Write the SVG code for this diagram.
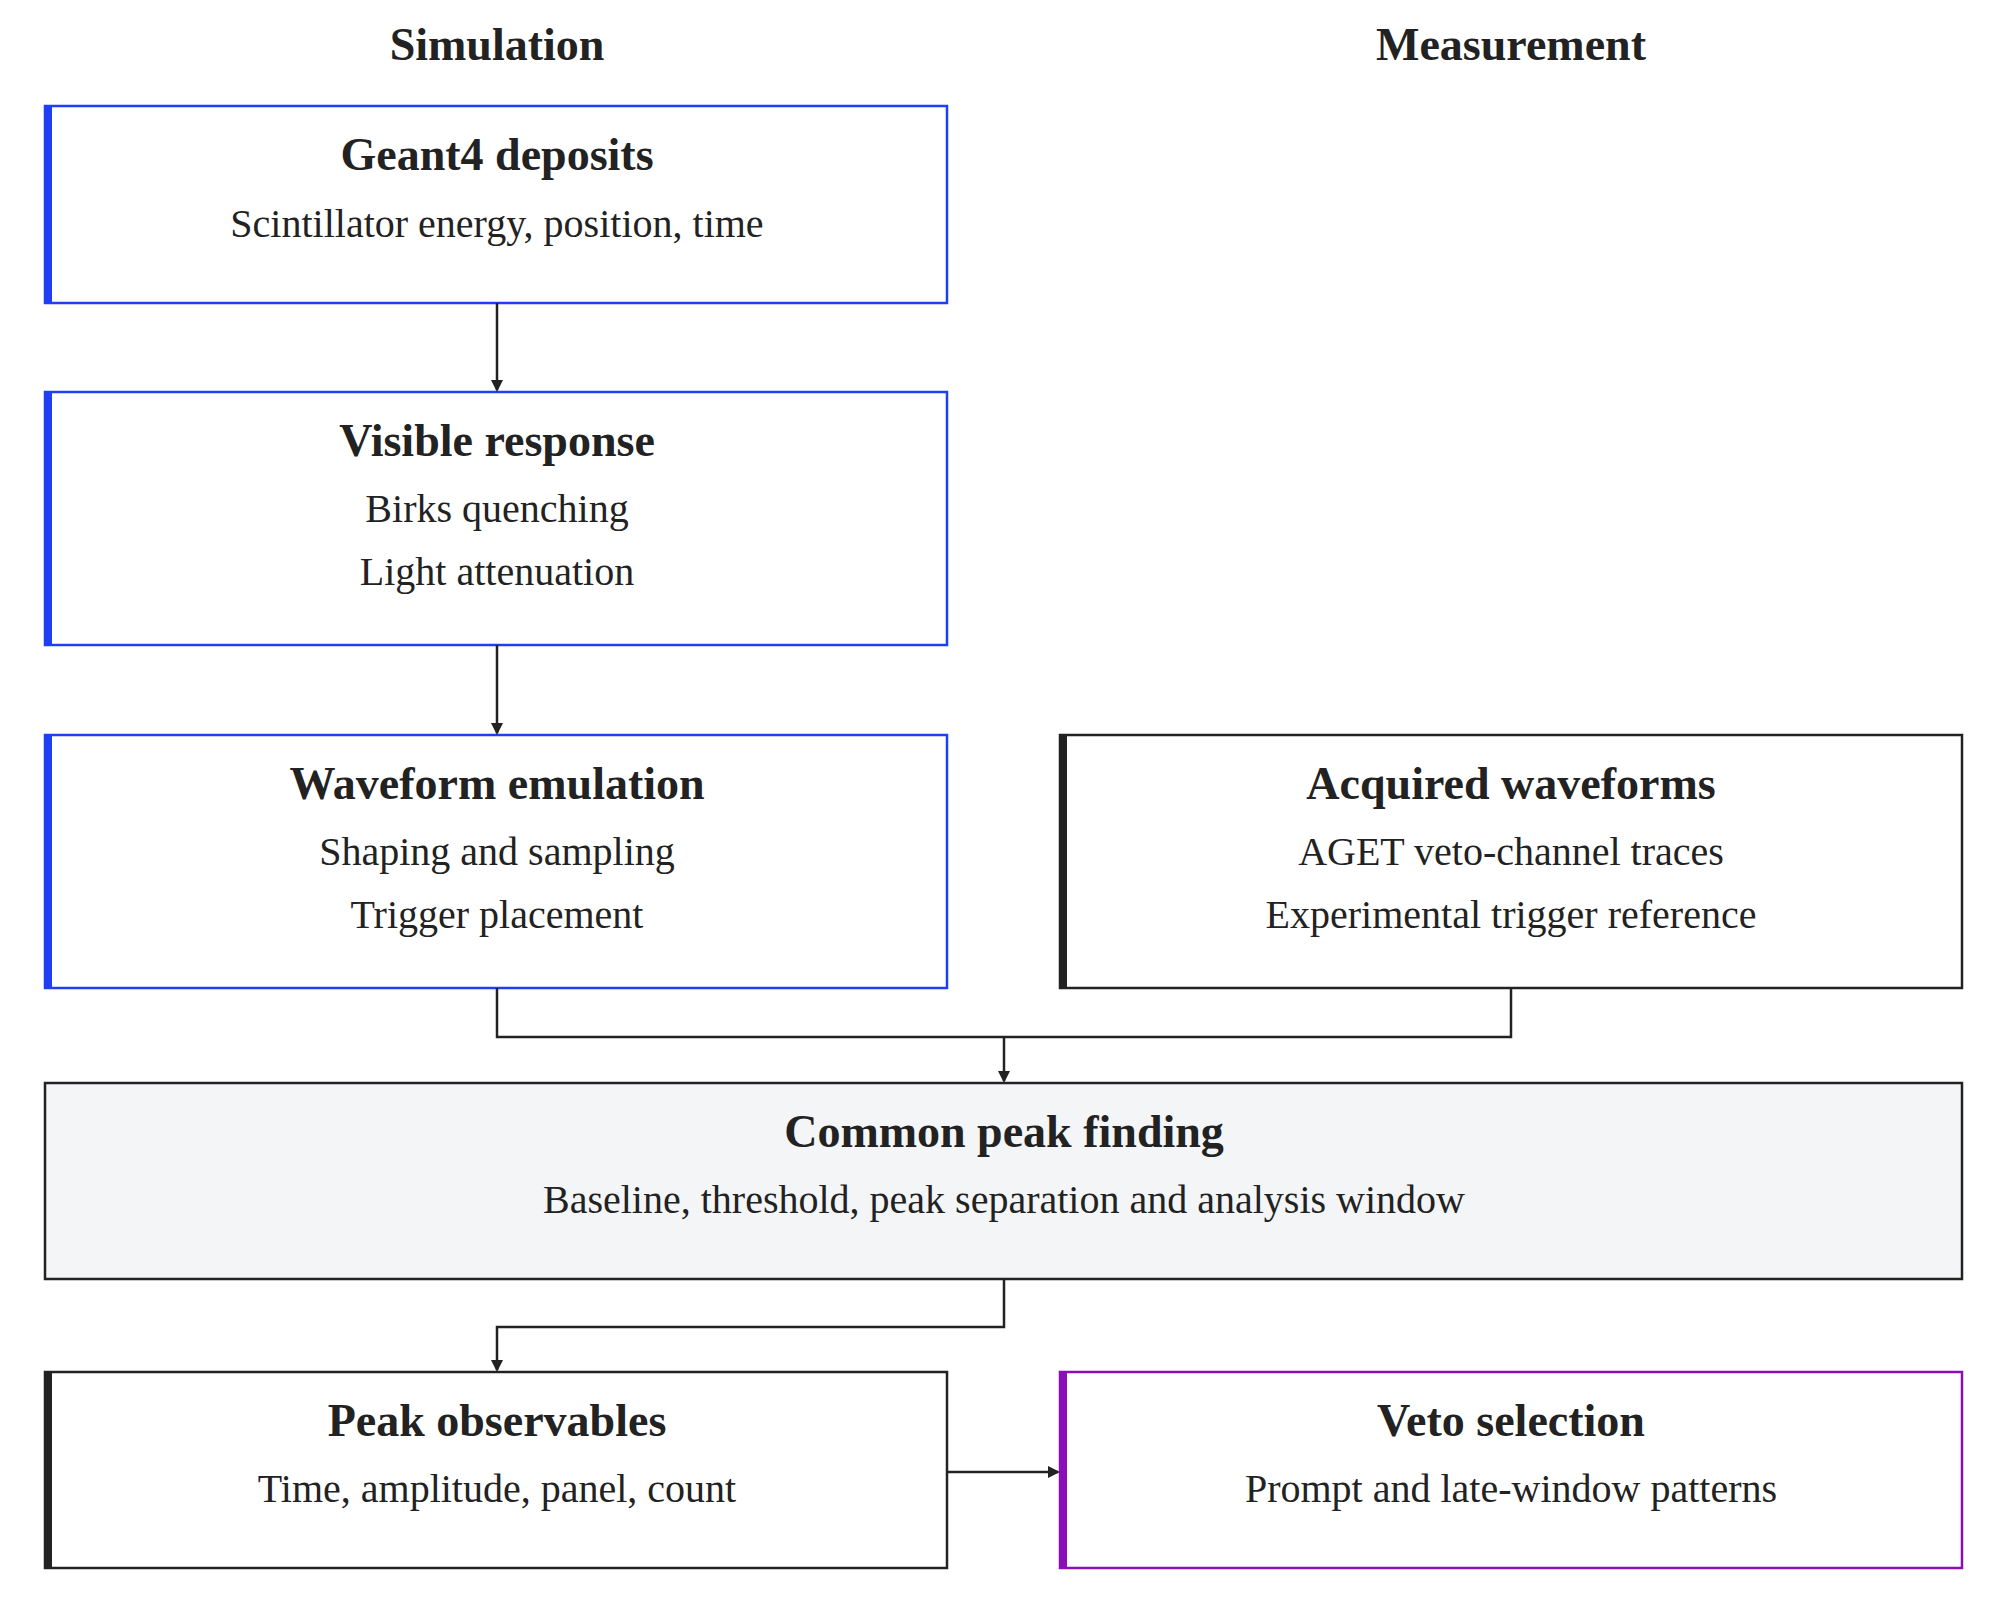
<svg xmlns="http://www.w3.org/2000/svg" width="2000" height="1609" viewBox="0 0 2000 1609">
<style>
.t{font-family:"Liberation Serif",serif;font-weight:bold;font-size:46px;fill:#222;text-anchor:middle}
.s{font-family:"Liberation Serif",serif;font-size:40px;fill:#222;text-anchor:middle}
.h{font-family:"Liberation Serif",serif;font-weight:bold;font-size:46px;fill:#222;text-anchor:middle}
.b{fill:#fff;stroke:#1f3ff5;stroke-width:2.5}
.k{fill:#fff;stroke:#222;stroke-width:2.5}
.p{fill:#fff;stroke:#8a0fb8;stroke-width:2.5}
.c{fill:none;stroke:#222;stroke-width:2.5}
</style>
<defs><marker id="a" markerWidth="12" markerHeight="12" refX="10" refY="6" orient="auto" markerUnits="userSpaceOnUse"><path d="M0,0 L12,6 L0,12 z" fill="#222"/></marker></defs>
<rect width="2000" height="1609" fill="#fff"/>
<text class="h" x="497" y="60">Simulation</text>
<text class="h" x="1511" y="60">Measurement</text>
<g id="geant4">
<rect class="b" x="45" y="106" width="902" height="197"/><rect x="44" y="105" width="8" height="199" fill="#1f3ff5"/>
<text class="t" x="497" y="170">Geant4 deposits</text><text class="s" x="497" y="237">Scintillator energy, position, time</text></g>
<g id="visible">
<rect class="b" x="45" y="392" width="902" height="253"/><rect x="44" y="391" width="8" height="255" fill="#1f3ff5"/>
<text class="t" x="497" y="456">Visible response</text><text class="s" x="497" y="522">Birks quenching</text><text class="s" x="497" y="585">Light attenuation</text></g>
<g id="waveform">
<rect class="b" x="45" y="735" width="902" height="253"/><rect x="44" y="734" width="8" height="255" fill="#1f3ff5"/>
<text class="t" x="497" y="799">Waveform emulation</text><text class="s" x="497" y="865">Shaping and sampling</text><text class="s" x="497" y="928">Trigger placement</text></g>
<g id="acquired">
<rect class="k" x="1060" y="735" width="902" height="253"/><rect x="1059" y="734" width="8" height="255" fill="#222"/>
<text class="t" x="1511" y="799">Acquired waveforms</text><text class="s" x="1511" y="865">AGET veto-channel traces</text><text class="s" x="1511" y="928">Experimental trigger reference</text></g>
<g id="common">
<rect x="45" y="1083" width="1917" height="196" fill="#f4f5f7" stroke="#222" stroke-width="2.5"/>
<text class="t" x="1004" y="1147">Common peak finding</text><text class="s" x="1004" y="1213">Baseline, threshold, peak separation and analysis window</text></g>
<g id="peak">
<rect class="k" x="45" y="1372" width="902" height="196"/><rect x="44" y="1371" width="8" height="198" fill="#222"/>
<text class="t" x="497" y="1436">Peak observables</text><text class="s" x="497" y="1502">Time, amplitude, panel, count</text></g>
<g id="veto">
<rect class="p" x="1060" y="1372" width="902" height="196"/><rect x="1059" y="1371" width="8" height="198" fill="#8a0fb8"/>
<text class="t" x="1511" y="1436">Veto selection</text><text class="s" x="1511" y="1502">Prompt and late-window patterns</text></g>
<g id="connectors">
<path class="c" d="M497,303 V390" marker-end="url(#a)"/>
<path class="c" d="M497,645 V733" marker-end="url(#a)"/>
<path class="c" d="M497,988 V1037 H1511 V988"/>
<path class="c" d="M1004,1037 V1081" marker-end="url(#a)"/>
<path class="c" d="M1004,1279 V1327 H497 V1370" marker-end="url(#a)"/>
<path class="c" d="M947,1472 H1058" marker-end="url(#a)"/>
</g>
</svg>
